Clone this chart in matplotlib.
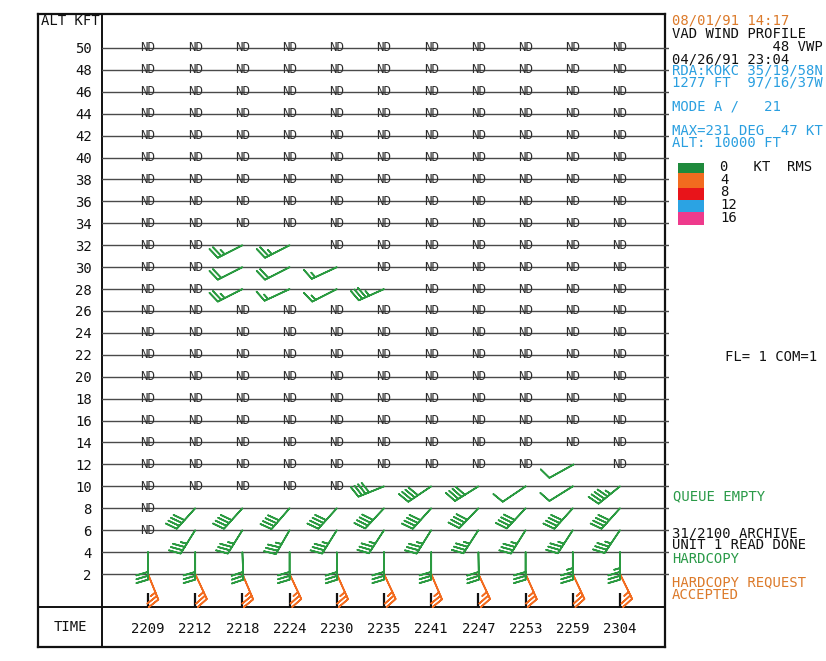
import numpy as np
import matplotlib
matplotlib.use('Agg')
import matplotlib.pyplot as plt
from matplotlib.patches import Rectangle

# ---------------- data ----------------
times = ['2209', '2212', '2218', '2224', '2230', '2235', '2241', '2247', '2253', '2259', '2304']
altitudes = [2, 4, 6, 8, 10, 12, 14, 16, 18, 20, 22, 24, 26, 28, 30, 32, 34, 36, 38, 40, 42, 44, 46, 48, 50]

N = None
# wind direction (deg, from) and speed (kt); None = no data (ND)
dir_02 = [158, 155, 157, 155, 156, 155, 157, 155, 156, 155, 154]
spd_02 = [25, 25, 25, 25, 25, 25, 25, 25, 25, 25, 25]
dir_04 = [180, 180, 178, 180, 179, 180, 180, 179, 180, 180, 180]
spd_04 = [30, 30, 30, 30, 30, 30, 30, 30, 30, 35, 35]
dir_06 = [N, 212, 212, 210, 212, 213, 212, 213, 212, 213, 214]
spd_06 = [N, 35, 35, 35, 35, 35, 35, 35, 35, 35, 35]
dir_08 = [N, 222, 222, 221, 222, 223, 222, 224, 223, 222, 222]
spd_08 = [N, 40, 40, 40, 40, 40, 40, 40, 40, 40, 40]
dir_10 = [N, N, N, N, N, 248, 236, 238, 236, 238, 231]
spd_10 = [N, N, N, N, N, 40, 40, 40, 10, 10, 45]
dir_12 = [N, N, N, N, N, N, N, N, N, 241, N]
spd_12 = [N, N, N, N, N, N, N, N, N, 10, N]
dir_28 = [N, N, 243, 245, 243, 246, N, N, N, N, N]
spd_28 = [N, N, 25, 15, 15, 35, N, N, N, N, N]
dir_30 = [N, N, 243, 243, 245, N, N, N, N, N, N]
spd_30 = [N, N, 20, 20, 15, N, N, N, N, N, N]
dir_32 = [N, N, 243, 243, N, N, N, N, N, N, N]
spd_32 = [N, N, 25, 25, N, N, N, N, N, N, N]

rms_levels = ['0', '4', '8', '12', '16']
rms_colors = ['#1f8a3c', '#f26b1f', '#e8141a', '#2ba3e3', '#ee3a8c']

wind = {2: (dir_02, spd_02), 4: (dir_04, spd_04), 6: (dir_06, spd_06),
        8: (dir_08, spd_08), 10: (dir_10, spd_10), 12: (dir_12, spd_12),
        28: (dir_28, spd_28), 30: (dir_30, spd_30), 32: (dir_32, spd_32)}
level_rms = {2: 1}   # index into rms_colors; others 0

# ---------------- figure ----------------
W, H = 826, 661
fig = plt.figure(figsize=(W / 100, H / 100), dpi=100)
fig.patch.set_facecolor('white')
MONO = 'DejaVu Sans Mono'

def fx(px):
    return px / W

def fy(py):
    return 1 - py / H

# outer frame (pixel coordinates)
L, T, R, B = 38, 14, 665, 647
SEPX, SEPY = 102, 607
RX = 669   # grid lines poke slightly past the right border
ax0 = fig.add_axes([fx(L), fy(B), fx(R - L), (B - T) / H])
ax0.set_xlim(L, R)
ax0.set_ylim(B, T)
ax0.set_xticks([])
ax0.set_yticks([])
for s in ax0.spines.values():
    s.set_linewidth(1.6)
    s.set_color('#111111')
ax0.axvline(SEPX, color='#111111', lw=1.4)
ax0.axhline(SEPY, color='#111111', lw=1.4)
ax0.text(41, 21, 'ALT KFT', family=MONO, fontsize=10, va='center', ha='left', color='#111111')
ax0.text(70, 627, 'TIME', family=MONO, fontsize=10, va='center', ha='center', color='#111111')

# main plotting axes
ax = fig.add_axes([fx(SEPX), fy(SEPY), fx(RX - SEPX), (SEPY - T) / H])
ax.patch.set_alpha(0)
x0, dx = 148, 47.2
y2, dy = 574, 526 / 48
ax.set_xlim((SEPX - x0) / dx, (RX - x0) / dx)
ax.set_ylim(2 - (SEPY - y2) / dy, 2 + (y2 - T) / dy)
for s in ax.spines.values():
    s.set_visible(False)

ax.set_yticks(altitudes)
ax.set_yticklabels([str(a) for a in altitudes], family=MONO, fontsize=10, color='#111111')
ax.tick_params(axis='y', length=0, pad=7.5)
ax.yaxis.grid(True, color='#4a4a4a', lw=1.0)
ax.set_axisbelow(True)

ax.set_xticks(range(len(times)))
ax.set_xticklabels(times, family=MONO, fontsize=10, color='#111111')
ax.tick_params(axis='x', direction='in', length=10, width=1.6, color='#111111', pad=10.5)

# ND labels and barbs
for a in altitudes:
    d, s = wind.get(a, ([None] * len(times), [None] * len(times)))
    xs, ys, us, vs = [], [], [], []
    for i in range(len(times)):
        if d[i] is None:
            ax.text(i, a, 'ND', family=MONO, fontsize=9, ha='center', va='center',
                    color='#2e2e2e')
        else:
            r = np.deg2rad(d[i])
            xs.append(i)
            ys.append(a)
            us.append(-s[i] * np.sin(r))
            vs.append(-s[i] * np.cos(r))
    if xs:
        c = rms_colors[level_rms.get(a, 0)]
        if c == rms_colors[0]:
            c = '#2a9a40'
        ax.barbs(xs, ys, us, vs, color=c, length=6.3, linewidth=1.2,
                 sizes=dict(spacing=0.14, height=0.42, width=0.25), clip_on=False)

# ---------------- sidebar ----------------
ORANGE = '#dc7a2a'
BLUE = '#2a9fe0'
GREEN = '#2a9a48'
BLACK = '#111111'
FS = 10
em_px = FS * 100 / 72
side = [
    (672, 21, '08/01/91 14:17', ORANGE, 1.0),
    (672, 46.75, 'VAD WIND PROFILE\n            48 VWP\n04/26/91 23:04', BLACK, 11.75),
    (672, 76.75, 'RDA:KOKC 35/19/58N\n1277 FT  97/16/37W', BLUE, 11.5),
    (672, 107, 'MODE A /   21', BLUE, 1.0),
    (672, 136.75, 'MAX=231 DEG  47 KT\nALT: 10000 FT', BLUE, 11.5),
    (725, 357, 'FL= 1 COM=1', BLACK, 1.0),
    (673, 496, 'QUEUE EMPTY', GREEN, 1.0),
    (672, 539.5, '31/2100 ARCHIVE\nUNIT 1 READ DONE', BLACK, 11.0),
    (672, 559, 'HARDCOPY', GREEN, 1.0),
    (672, 588.75, 'HARDCOPY REQUEST\nACCEPTED', ORANGE, 11.5),
]
for px, py, txt, col, sp in side:
    fig.text(fx(px), fy(py), txt, family=MONO, fontsize=FS, color=col, ha='left',
             va='center', linespacing=max(sp / em_px, 0.5))

# RMS legend
box_tops = [163, 173, 188, 200, 212]
box_bots = [173, 188, 200, 212, 225]
for k, lev in enumerate(rms_levels):
    fig.add_artist(Rectangle((fx(678), fy(box_bots[k])), fx(704 - 678),
                             (box_bots[k] - box_tops[k]) / H,
                             transform=fig.transFigure, facecolor=rms_colors[k],
                             edgecolor='none'))
legend_txt = '\n'.join([rms_levels[0] + '   KT  RMS'] + rms_levels[1:])
fig.text(fx(720), fy(192.5), legend_txt, family=MONO, fontsize=FS, color=BLACK,
         ha='left', va='center', linespacing=12.25 / em_px)

fig.savefig('out.png', dpi=100, facecolor='white')
